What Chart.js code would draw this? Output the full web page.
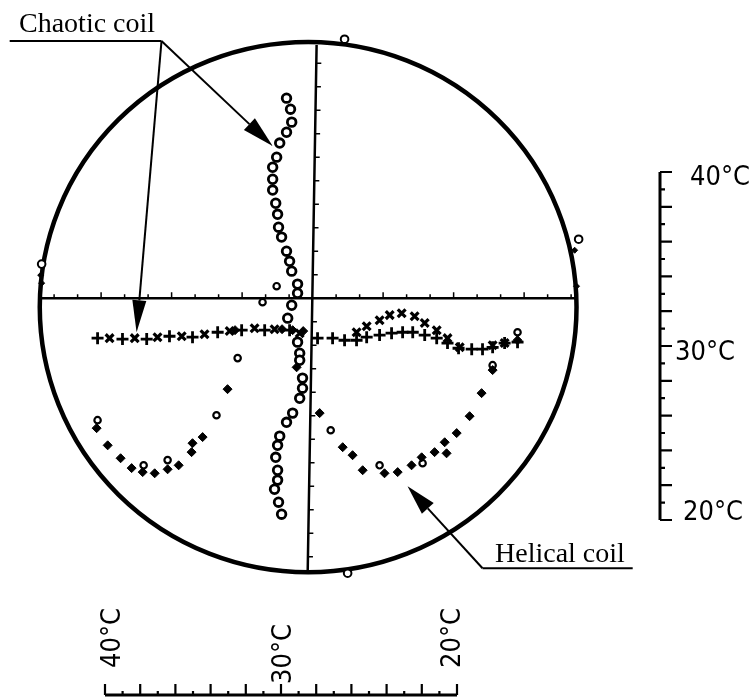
<!DOCTYPE html>
<html>
<head>
<meta charset="utf-8">
<script src="https://cdn.jsdelivr.net/npm/chart.js@4.4.0/dist/chart.umd.min.js"></script>
<style>
    html, body { margin: 0; padding: 0; background: #fff; }
    canvas { display: block; }
</style>
</head>
<body>
<canvas id="grafico" width="750" height="699"></canvas>
<script>
// DATA (units = one division of the inner axes, origin at the crossing)
const chaoticX = [-1.11, -0.94, -0.89, -1.11, -1.40, -1.53, -1.70, -1.70, -1.70, -1.57, -1.49, -1.45, -1.32, -1.11, -0.98, -0.89, -0.64, -0.64, -0.89, -1.06, -0.64, -0.55, -0.55, -0.43, -0.43, -0.55, -0.85, -1.11, -1.40, -1.49, -1.57, -1.49, -1.49, -1.62, -1.45, -1.32];
const chaoticY = [8.51, 8.04, 7.49, 7.06, 6.60, 6.00, 5.57, 5.06, 4.60, 4.04, 3.57, 3.02, 2.60, 2.00, 1.57, 1.15, 0.60, 0.21, -0.30, -0.85, -1.87, -2.34, -2.64, -3.40, -3.83, -4.26, -4.89, -5.28, -5.87, -6.26, -6.77, -7.32, -7.74, -8.13, -8.68, -9.19];

const plusX = [-9.15, -8.09, -7.06, -6.09, -5.11, -4.04, -3.02, -2.04, -0.98, 0.21, 0.85, 1.36, 1.87, 2.30, 2.85, 3.36, 3.83, 4.26, 4.77, 5.28, 5.74, 6.21, 6.77, 7.23, 7.66, 8.17, 8.72];
const plusY = [-1.70, -1.74, -1.74, -1.62, -1.66, -1.45, -1.36, -1.36, -1.36, -1.70, -1.70, -1.79, -1.79, -1.66, -1.57, -1.49, -1.45, -1.45, -1.57, -1.70, -1.91, -2.13, -2.17, -2.17, -2.09, -1.91, -1.87];

const starX = [-8.64, -7.57, -6.60, -5.57, -4.60, -3.53, -2.47, -1.62, -0.55, 1.87, 2.30, 2.85, 3.28, 3.79, 4.34, 4.77, 5.28, 5.74, 6.26, 7.66, 8.17];
const starY = [-1.70, -1.70, -1.66, -1.62, -1.53, -1.40, -1.28, -1.32, -1.49, -1.45, -1.19, -0.94, -0.72, -0.64, -0.77, -1.06, -1.36, -1.70, -2.09, -2.00, -1.91];

const helicalX = [-9.19, -8.72, -8.17, -7.70, -7.23, -6.72, -6.17, -5.70, -5.15, -5.11, -4.68, -3.62, -3.30, -1.30, -0.85, -0.40, -0.68, 0.30, 1.28, 1.70, 2.13, 3.06, 3.62, 4.21, 4.64, 5.19, 5.70, 5.62, 6.13, 6.68, 7.19, 7.66, 8.72];
const helicalY = [-5.53, -6.26, -6.81, -7.23, -7.40, -7.45, -7.28, -7.11, -6.55, -6.17, -5.91, -3.87, -1.36, -1.32, -1.36, -1.40, -2.94, -4.89, -6.34, -6.68, -7.32, -7.45, -7.40, -7.11, -6.77, -6.55, -6.60, -6.13, -5.74, -5.02, -4.04, -3.06, -1.79];

const openX = [-9.15, -7.19, -6.17, -4.09, -3.19, -1.53, -2.13, 0.77, 2.85, 4.68, 7.66, 8.72];
const openY = [-5.19, -7.11, -6.89, -4.98, -2.55, 0.51, -0.17, -5.62, -7.11, -7.02, -2.85, -1.45];

const refX = [1.36, 1.49, -11.53, 11.32];
const refY = [11.02, -11.70, 1.45, 2.51];
const refDotX = [-11.57, -11.53, 11.15, 11.23];
const refDotY = [0.98, 0.64, 2.04, 0.51];

// TEMPERATURE SCALES
const tempMin = 20;
const tempMax = 40;
const tempLabels = ['40°C', '30°C', '20°C'];
const tempValues = [40, 30, 20];

const pts = (xs, ys) => xs.map((v, i) => ({ x: v, y: ys[i] }));

// FRAME: circle, crossed axes, ticks
const frame = {
    id: 'frame',
    beforeDatasetsDraw(chart) {
        const { ctx, scales: { x, y } } = chart;
        const px = v => x.getPixelForValue(v);
        const py = v => y.getPixelForValue(v);
        const unit = px(1) - px(0);
        ctx.save();
        ctx.strokeStyle = '#000';
        ctx.lineWidth = 4.5;
        ctx.beginPath();
        ctx.ellipse(px(-0.19), py(-0.38), 11.42 * unit, 11.28 * unit, 0, 0, Math.PI * 2);
        ctx.stroke();

        ctx.lineWidth = 2.5;
        ctx.beginPath();
        ctx.moveTo(px(-11.6), py(0));
        ctx.lineTo(px(11.25), py(0));
        ctx.moveTo(px(0.17), py(10.77));
        ctx.lineTo(px(-0.21), py(-11.66));
        ctx.stroke();

        const vx = v => -0.21 + (v + 11.66) * 0.38 / 22.43;
        ctx.lineWidth = 1.5;
        ctx.beginPath();
        for (let i = -11; i <= 11; i++) {
            if (i === 0) continue;
            ctx.moveTo(px(i), py(0));
            ctx.lineTo(px(i), py(0) - (i % 3 === 0 ? 6 : 4));
            if (i <= 10) {
                ctx.moveTo(px(vx(i)), py(i));
                ctx.lineTo(px(vx(i)) + 5, py(i));
            }
        }
        ctx.stroke();
        ctx.restore();
    },
    afterDatasetsDraw(chart) {
        const { ctx, scales: { x, y } } = chart;
        const px = v => x.getPixelForValue(v);
        const py = v => y.getPixelForValue(v);
        ctx.save();
        ctx.strokeStyle = '#000';
        ctx.fillStyle = '#000';

        const arrow = (x1, y1, x2, y2, len, half) => {
            const a = Math.atan2(y2 - y1, x2 - x1);
            const bx = x2 - Math.cos(a) * len, by = y2 - Math.sin(a) * len;
            ctx.lineWidth = 2;
            ctx.beginPath();
            ctx.moveTo(x1, y1);
            ctx.lineTo(bx, by);
            ctx.stroke();
            ctx.beginPath();
            ctx.moveTo(x2, y2);
            ctx.lineTo(bx + Math.sin(a) * half, by - Math.cos(a) * half);
            ctx.lineTo(bx - Math.sin(a) * half, by + Math.cos(a) * half);
            ctx.closePath();
            ctx.fill();
        };

        // Chaotic coil label + arrows
        ctx.lineWidth = 2;
        ctx.beginPath();
        ctx.moveTo(px(-12.89), py(10.94));
        ctx.lineTo(px(-6.43), py(10.94));
        ctx.stroke();
        arrow(px(-6.43), py(10.94), px(-7.49), py(-1.45), 32, 7);
        arrow(px(-6.43), py(10.94), px(-1.70), py(6.47), 32, 8);

        // Helical coil label + arrow
        ctx.lineWidth = 2;
        ctx.beginPath();
        ctx.moveTo(px(7.23), py(-11.49));
        ctx.lineTo(px(13.62), py(-11.49));
        ctx.stroke();
        arrow(px(7.23), py(-11.49), px(4.04), py(-8.0), 30, 8);

        ctx.font = '28px "Liberation Serif", "Times New Roman", serif';
        ctx.textBaseline = 'alphabetic';
        ctx.textAlign = 'left';
        ctx.fillText('Chaotic coil', 19, 32);
        ctx.fillText('Helical coil', 495, 562);

        // right temperature scale
        const ry = t => 520 - (t - tempMin) * 17.4;
        ctx.lineWidth = 3;
        ctx.beginPath();
        ctx.moveTo(660, ry(tempMax));
        ctx.lineTo(660, ry(tempMin));
        ctx.stroke();
        ctx.lineWidth = 2.2;
        ctx.beginPath();
        for (let t = tempMin; t <= tempMax; t++) {
            ctx.moveTo(660, ry(t));
            ctx.lineTo(660 + (t % 2 === 0 ? 12 : 5), ry(t));
        }
        ctx.stroke();

        // bottom temperature scale
        const bx = t => 105 + (tempMax - t) * 17.6;
        ctx.lineWidth = 3;
        ctx.beginPath();
        ctx.moveTo(bx(tempMax), 695);
        ctx.lineTo(bx(tempMin), 695);
        ctx.stroke();
        ctx.lineWidth = 2.2;
        ctx.beginPath();
        for (let t = tempMin; t <= tempMax; t++) {
            ctx.moveTo(bx(t), 695);
            ctx.lineTo(bx(t), 695 - (t % 2 === 0 ? 11 : 4));
        }
        ctx.stroke();

        ctx.font = '27px "DejaVu Sans Condensed", "DejaVu Sans", sans-serif';
        ctx.textBaseline = 'middle';
        const rightPos = { 40: [690, 178], 30: [675, 353], 20: [683, 513] };
        const bottomPos = { 40: [113, 668], 30: [284, 684], 20: [453, 668] };
        tempValues.forEach((t, i) => {
            const [rx, ryy] = rightPos[t];
            ctx.textAlign = 'left';
            ctx.fillText(tempLabels[i], rx, ryy);
            const [cx, cy] = bottomPos[t];
            ctx.save();
            ctx.translate(cx, cy);
            ctx.rotate(-Math.PI / 2);
            ctx.fillText(tempLabels[i], 0, 0);
            ctx.restore();
        });
        ctx.restore();
    }
};

// GRÁFICO
new Chart(document.getElementById('grafico'), {
    type: 'scatter',
    data: {
        datasets: [
            {
                label: 'Chaotic coil',
                data: pts(chaoticX, chaoticY),
                pointStyle: 'circle',
                pointRadius: 4.3,
                borderWidth: 2.8,
                borderColor: '#000',
                backgroundColor: '#fff'
            },
            {
                label: 'Helical coil',
                data: pts(helicalX, helicalY),
                pointStyle: 'rectRot',
                pointRadius: 4.5,
                borderWidth: 1,
                borderColor: '#000',
                backgroundColor: '#000'
            },
            {
                label: 'Helical coil (open)',
                data: pts(openX, openY),
                pointStyle: 'circle',
                pointRadius: 3.2,
                borderWidth: 2.2,
                borderColor: '#000',
                backgroundColor: '#fff'
            },
            {
                label: 'Plus',
                data: pts(plusX, plusY),
                pointStyle: 'cross',
                pointRadius: 6,
                borderWidth: 2.8,
                borderColor: '#000'
            },
            {
                label: 'Cross',
                data: pts(starX, starY),
                pointStyle: 'crossRot',
                pointRadius: 5.5,
                borderWidth: 3.2,
                borderColor: '#000'
            },
            {
                label: 'Reference',
                data: pts(refX, refY),
                pointStyle: 'circle',
                pointRadius: 3.8,
                borderWidth: 2,
                borderColor: '#000',
                backgroundColor: '#fff',
                clip: false
            },
            {
                label: 'Reference dots',
                data: pts(refDotX, refDotY),
                pointStyle: 'rectRot',
                pointRadius: 3,
                borderColor: '#000',
                backgroundColor: '#000',
                clip: false
            }
        ]
    },
    options: {
        responsive: false,
        animation: false,
        layout: { padding: { left: 40, right: 173, top: 42, bottom: 127 } },
        plugins: { legend: { display: false }, tooltip: { enabled: false } },
        scales: {
            x: { type: 'linear', min: -11.6, max: 11.25, display: false },
            y: { type: 'linear', min: -11.65, max: 10.9, display: false }
        }
    },
    plugins: [frame]
});
</script>
</body>
</html>
